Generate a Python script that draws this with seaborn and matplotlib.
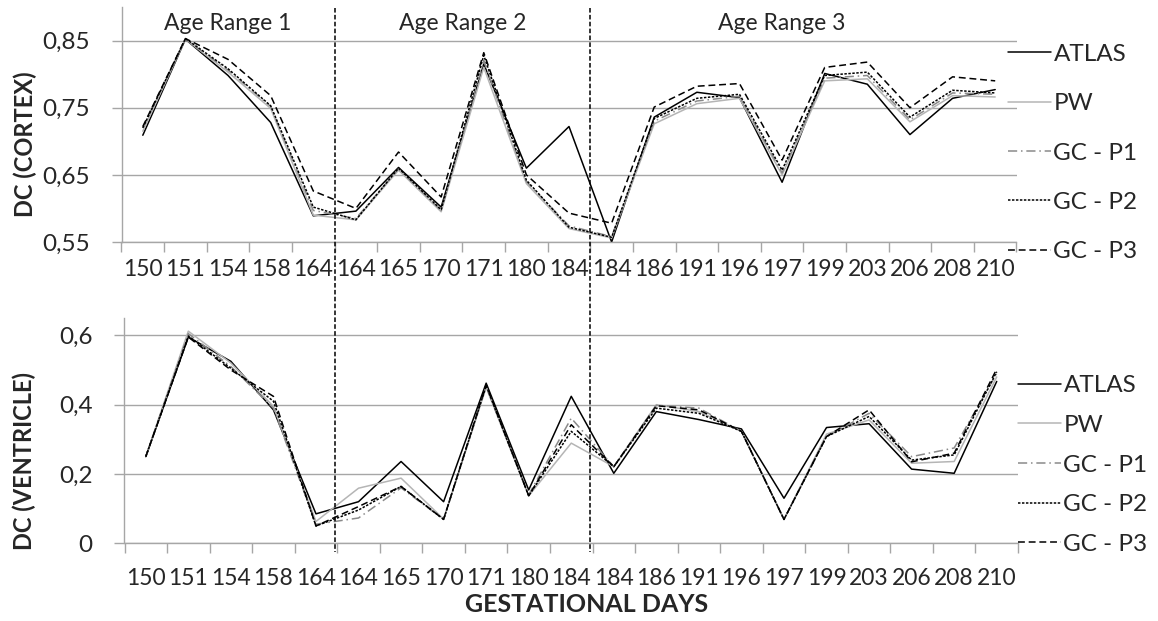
import matplotlib
matplotlib.use("Agg")
import matplotlib.pyplot as plt
import seaborn as sns
import pandas as pd
from matplotlib.lines import Line2D
from matplotlib.transforms import blended_transform_factory

# gestational days (categories, duplicates are on purpose)
days = ["150", "151", "154", "158", "164", "164", "165", "170", "171", "180", "184",
        "184", "186", "191", "196", "197", "199", "203", "206", "208", "210"]
series_names = ["ATLAS", "PW", "GC - P1", "GC - P2", "GC - P3"]

cortex_atlas = [0.709, 0.852, 0.798, 0.728, 0.589, 0.596, 0.661, 0.602, 0.815, 0.660, 0.722,
                0.550, 0.736, 0.773, 0.765, 0.639, 0.801, 0.785, 0.710, 0.764, 0.777]
cortex_pw = [0.715, 0.852, 0.803, 0.749, 0.590, 0.583, 0.657, 0.595, 0.810, 0.637, 0.570,
             0.556, 0.726, 0.756, 0.764, 0.650, 0.790, 0.793, 0.729, 0.768, 0.766]
cortex_p1 = [0.720, 0.852, 0.806, 0.752, 0.597, 0.585, 0.659, 0.597, 0.820, 0.640, 0.574,
             0.558, 0.730, 0.760, 0.767, 0.653, 0.794, 0.798, 0.732, 0.772, 0.770]
cortex_p2 = [0.720, 0.853, 0.808, 0.753, 0.602, 0.583, 0.660, 0.598, 0.828, 0.642, 0.572,
             0.557, 0.734, 0.764, 0.770, 0.657, 0.798, 0.803, 0.736, 0.776, 0.772]
cortex_p3 = [0.722, 0.853, 0.822, 0.768, 0.626, 0.600, 0.684, 0.617, 0.832, 0.650, 0.593,
             0.578, 0.751, 0.782, 0.786, 0.672, 0.810, 0.818, 0.750, 0.796, 0.790]

vent_atlas = [0.250, 0.595, 0.525, 0.385, 0.085, 0.120, 0.236, 0.120, 0.462, 0.154, 0.424,
              0.202, 0.380, 0.357, 0.330, 0.130, 0.334, 0.345, 0.214, 0.202, 0.467]
vent_pw = [0.250, 0.612, 0.520, 0.395, 0.063, 0.159, 0.188, 0.070, 0.450, 0.137, 0.289,
           0.221, 0.400, 0.380, 0.323, 0.069, 0.315, 0.356, 0.231, 0.236, 0.480]
vent_p1 = [0.250, 0.605, 0.510, 0.390, 0.055, 0.073, 0.160, 0.069, 0.452, 0.140, 0.361,
           0.221, 0.398, 0.390, 0.323, 0.069, 0.308, 0.375, 0.250, 0.275, 0.490]
vent_p2 = [0.250, 0.598, 0.505, 0.410, 0.050, 0.096, 0.164, 0.069, 0.455, 0.137, 0.323,
           0.221, 0.390, 0.375, 0.323, 0.069, 0.308, 0.366, 0.240, 0.255, 0.495]
vent_p3 = [0.250, 0.595, 0.500, 0.424, 0.050, 0.106, 0.164, 0.069, 0.458, 0.137, 0.342,
           0.221, 0.397, 0.385, 0.323, 0.069, 0.308, 0.385, 0.235, 0.260, 0.503]

age_ranges = ["Age Range 1", "Age Range 2", "Age Range 3"]

colors = {"ATLAS": "black", "PW": "#b5b5b5", "GC - P1": "#8a8a8a",
          "GC - P2": "black", "GC - P3": "black"}
dash_map = {"ATLAS": "", "PW": "", "GC - P1": (6, 2.5, 1, 2.5),
            "GC - P2": (1.6, 1.0), "GC - P3": (4.5, 2.5)}
GRID = "#a6a6a6"

sns.set_theme(style="white")
plt.rcParams["font.family"] = ["Lato", "DejaVu Sans"]

W, H = 1158, 621
fig = plt.figure(figsize=(W / 100, H / 100), dpi=100)
ax_top = fig.add_axes([121.5 / W, 1 - 242 / H, 895 / W, 235 / H])
ax_bot = fig.add_axes([124.5 / W, 1 - 543.3 / H, 893.5 / W, 225.3 / H])


def draw(ax, values, ylim, yticks, yticklabels, label_pad, legend_y, legend_x, spacing):
    rows = []
    for name, vals in zip(series_names, values):
        for i, v in enumerate(vals):
            rows.append({"idx": i, "dc": v, "series": name})
    df = pd.DataFrame(rows)
    sns.lineplot(data=df, x="idx", y="dc", hue="series", style="series",
                 hue_order=series_names, style_order=series_names,
                 palette=colors, dashes=dash_map, linewidth=1.1,
                 legend=False, ax=ax, errorbar=None)

    ax.set_xlim(-0.5, len(days) - 0.5)
    ax.set_ylim(*ylim)
    ax.set_xticks(range(len(days)))
    ax.set_xticklabels(days, fontsize=16.5)
    ax.set_xticks([i - 0.5 for i in range(len(days) + 1)], minor=True)
    ax.tick_params(axis="x", which="major", length=0, pad=label_pad)
    ax.tick_params(axis="x", which="minor", length=7, width=1, color=GRID, bottom=True)
    ax.set_yticks(yticks)
    ax.set_yticklabels(yticklabels, fontsize=17.5)
    ax.tick_params(axis="y", length=7, width=1, color=GRID, left=True, pad=16)
    ax.yaxis.grid(True, color=GRID, linewidth=1)
    ax.set_axisbelow(True)
    for side in ["top", "right"]:
        ax.spines[side].set_visible(False)
    for side in ["left", "bottom"]:
        ax.spines[side].set_color(GRID)
        ax.spines[side].set_linewidth(1)
    ax.set_xlabel("")
    ax.set_ylabel("")

    ax.legend(ax.lines[:5], series_names, loc="center left",
              bbox_to_anchor=(legend_x, legend_y), bbox_transform=fig.transFigure,
              frameon=False, fontsize=17.5, handlelength=1.75, handletextpad=0.12,
              borderpad=0, borderaxespad=0, labelspacing=spacing)


draw(ax_top, [cortex_atlas, cortex_pw, cortex_p1, cortex_p2, cortex_p3],
     (0.55, 0.9), [0.55, 0.65, 0.75, 0.85], ["0,55", "0,65", "0,75", "0,85"],
     label_pad=12.5, legend_y=1 - 153 / H, legend_x=1008 / W, spacing=1.17)
draw(ax_bot, [vent_atlas, vent_pw, vent_p1, vent_p2, vent_p3],
     (0, 0.65), [0, 0.2, 0.4, 0.6], ["0", "0,2", "0,4", "0,6"],
     label_pad=17.5, legend_y=1 - 465 / H, legend_x=1018 / W, spacing=0.77)

# age range separators spanning both panels
trans = blended_transform_factory(ax_top.transData, fig.transFigure)
for xpos in [4.5, 10.5]:
    fig.add_artist(Line2D([xpos, xpos], [1 - 8 / H, 1 - 552 / H], transform=trans,
                          color="black", linewidth=1.1, dashes=(3, 1.5)))

for xpos, label in zip([2, 7.5, 15], age_ranges):
    ax_top.text(xpos, 1 - 24 / H, label, transform=trans, ha="center", va="center",
                fontsize=16.5)

fig.text(25 / W, 1 - 144 / H, "DC (CORTEX)", rotation=90, ha="center", va="center",
         fontsize=17, fontweight="bold")
fig.text(24 / W, 1 - 461 / H, "DC (VENTRICLE)", rotation=90, ha="center", va="center",
         fontsize=17, fontweight="bold")
fig.text(587 / W, 1 - 605 / H, "GESTATIONAL DAYS", ha="center", va="center",
         fontsize=18, fontweight="bold")

fig.savefig("out.png", dpi=100)
